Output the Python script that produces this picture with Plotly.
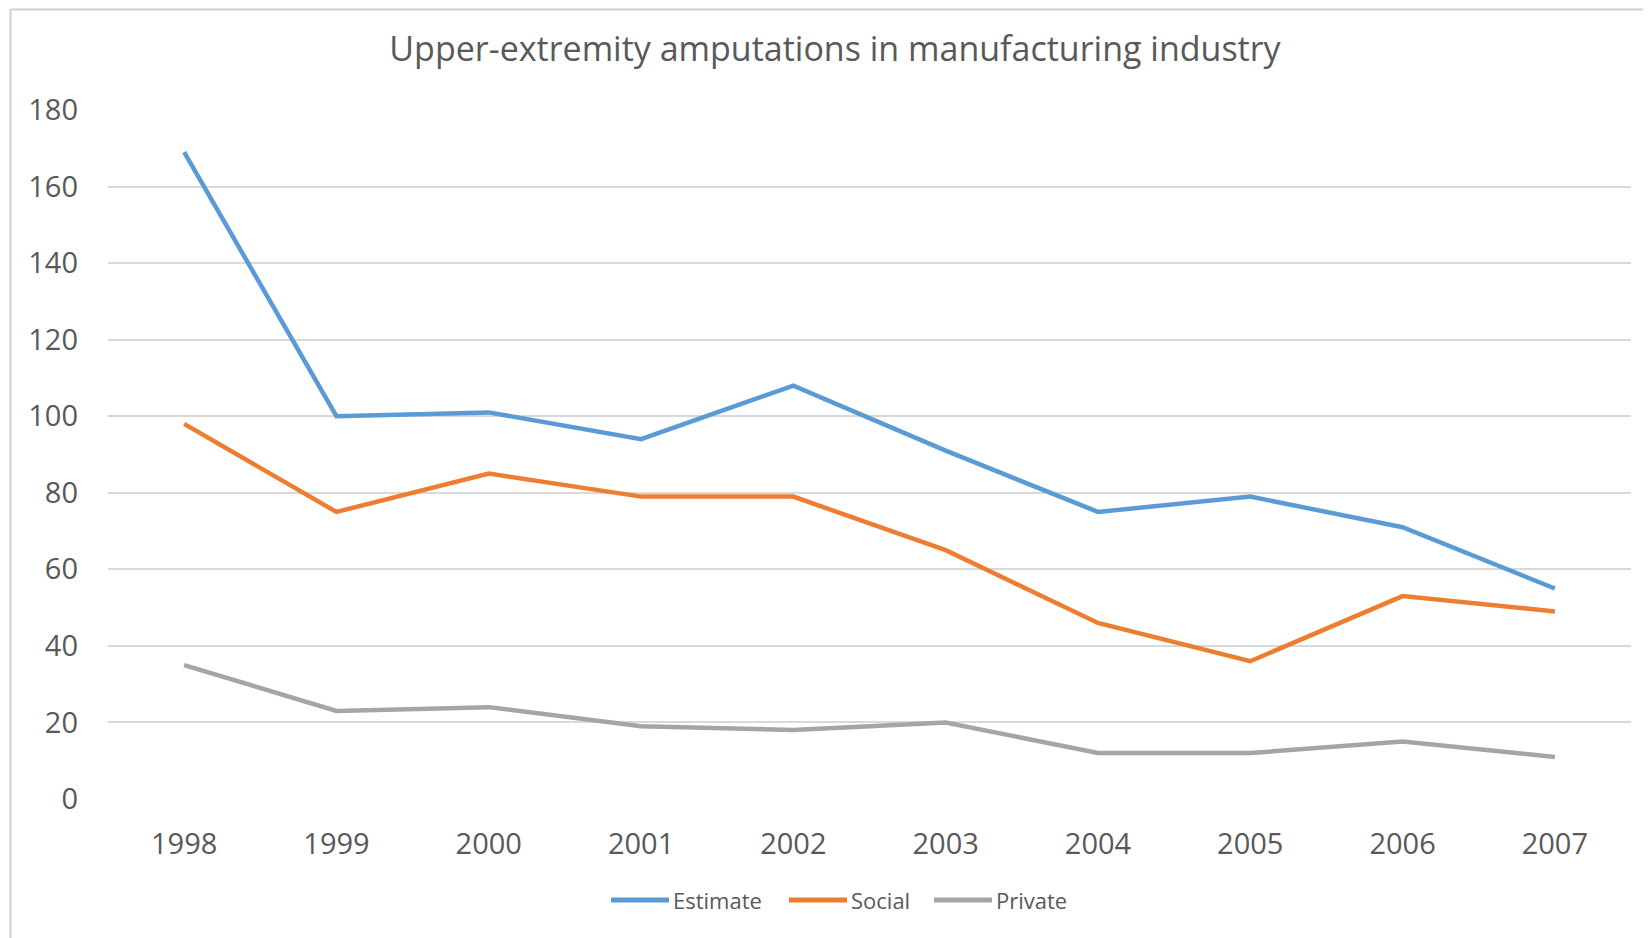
import plotly.graph_objects as go

years = ["1998", "1999", "2000", "2001", "2002", "2003", "2004", "2005", "2006", "2007"]
estimate = [169, 100, 101, 94, 108, 91, 75, 79, 71, 55]
social = [98, 75, 85, 79, 79, 65, 46, 36, 53, 49]
private = [35, 23, 24, 19, 18, 20, 12, 12, 15, 11]
y_ticks = [0, 20, 40, 60, 80, 100, 120, 140, 160, 180]
series_names = ["Estimate", "Social", "Private"]
series_colors = ["#5B9BD5", "#ED7D31", "#A5A5A5"]

# page has an 8px body margin: figure coords = page coords - 8
OFF = 8
W, H = 1651 - OFF, 938 - OFF
L, R, T = 108 - OFF, 20, 109.5 - OFF
B = H - (799 - OFF)
FONT = "Open Sans"
GRAY = "#595959"

fig = go.Figure()
for name, vals, col in zip(series_names, [estimate, social, private], series_colors):
    fig.add_trace(go.Scatter(x=years, y=vals, name=name, mode="lines",
                             line=dict(color=col, width=4.5), showlegend=False))

pw = W - L - R
ph = H - T - B


def px(xp):  # page x -> paper
    return (xp - OFF - L) / pw


def py(yp):  # page y -> paper
    return ((799 - OFF) - (yp - OFF)) / ph


shapes = [
    dict(type="line", xref="paper", yref="paper",
         x0=px(10.5), x1=px(10.5), y0=py(OFF + 0.5), y1=py(945),
         line=dict(color="#d0d0d0", width=2)),
    dict(type="line", xref="paper", yref="paper",
         x0=px(10.5), x1=px(1660), y0=py(OFF + 1), y1=py(OFF + 1),
         line=dict(color="#d0d0d0", width=2)),
]
annotations = []
# legend (drawn as keys + labels to match the long Excel legend keys)
leg_y = 900
leg_line_starts = [611, 789, 934]
for name, col, x0 in zip(series_names, series_colors, leg_line_starts):
    shapes.append(dict(type="line", xref="paper", yref="paper",
                       x0=px(x0), x1=px(x0 + 58), y0=py(leg_y), y1=py(leg_y),
                       line=dict(color=col, width=5)))
    annotations.append(dict(text=name, xref="paper", yref="paper",
                            x=px(x0 + 60), y=py(leg_y), xanchor="left", yanchor="middle",
                            showarrow=False, font=dict(size=22, color=GRAY, family=FONT)))

fig.update_layout(
    width=W, height=H,
    margin=dict(l=L, r=R, t=T, b=B),
    paper_bgcolor="white", plot_bgcolor="white",
    font=dict(family=FONT, color=GRAY),
    title=dict(text="Upper-extremity amputations in manufacturing industry",
               x=(835 - OFF) / W, xanchor="center", y=1 - (49.5 - OFF) / H, yanchor="middle",
               font=dict(size=34, color=GRAY, family=FONT)),
    xaxis=dict(type="category", range=[-0.5, 9.5], showgrid=False, zeroline=False,
               showline=False, ticks="", tickfont=dict(size=29, color=GRAY),
               ticklabelstandoff=25),
    yaxis=dict(range=[0, 180], tickvals=y_ticks, showgrid=True, gridcolor="#d9d9d9",
               gridwidth=1.5, zeroline=False, showline=False, ticks="",
               tickfont=dict(size=29, color=GRAY), ticklabelstandoff=29),
    showlegend=False,
    shapes=shapes,
    annotations=annotations,
)
fig.write_html("out.html")
